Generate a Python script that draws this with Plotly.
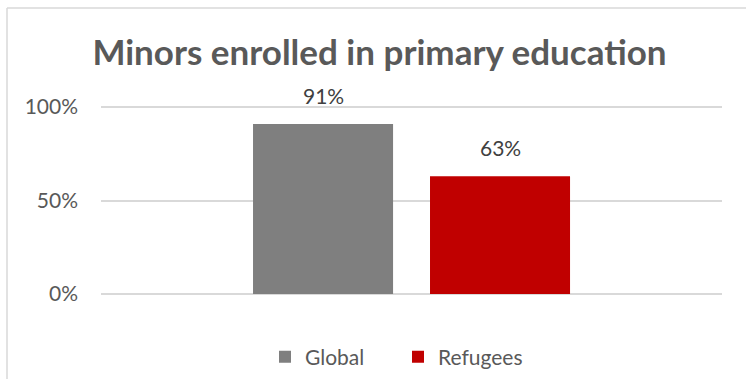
import plotly.graph_objects as go

# Enrollment share of minors in primary education
category = [""]
series_names = ["Global", "Refugees"]
series_values = [[0.91], [0.63]]
series_colors = ["#7f7f7f", "#c00000"]
y_ticks = [0, 0.5, 1.0]
y_tick_labels = ["0%", "50%", "100%"]

FONT = "Lato, 'Open Sans', sans-serif"
W, H = 746, 379
L, R, T, B = 101, 24, 105, 83
Y_PAD = 0.011  # keeps the 0% and 100% grid lines inside the plot area

# bar slot geometry within the single category (axis units, range [-0.5, 0.5])
bar_width = 0.2255
bar_offsets = [-0.2552, 0.0298]

fig = go.Figure()
for name, vals, color, off in zip(series_names, series_values, series_colors, bar_offsets):
    fig.add_trace(go.Bar(
        x=category, y=vals, name=name,
        marker=dict(color=color, line=dict(width=0)),
        width=bar_width, offset=off,
        hoverinfo="skip",
    ))
    # value label above each bar
    for v in vals:
        fig.add_annotation(
            x=off + bar_width / 2, y=v, xref="x", yref="y",
            text=f"{round(v * 100)}%", showarrow=False,
            yanchor="bottom", yshift=14,
            font=dict(family=FONT, size=21, color="#404040"),
        )

# light frame along the top and left edges (container pixels -> paper units)
frame_color = "#d9d9d9"
plot_w, plot_h = W - L - R, H - T - B
x_left = (7 - L) / plot_w
y_top = (H - B - 8) / plot_h
fig.add_shape(type="line", xref="paper", yref="paper",
              x0=x_left, x1=2, y0=y_top, y1=y_top,
              line=dict(color=frame_color, width=1.5))
fig.add_shape(type="line", xref="paper", yref="paper",
              x0=x_left, x1=x_left, y0=y_top, y1=-2,
              line=dict(color=frame_color, width=1.5))

fig.update_layout(
    width=W, height=H,
    margin=dict(l=L, r=R, t=T, b=B, pad=0, autoexpand=False),
    paper_bgcolor="white", plot_bgcolor="white",
    barmode="group",
    showlegend=True,
    title=dict(
        text="<b>Minors enrolled in primary education</b>",
        x=379.5 / W, xref="container", xanchor="center",
        y=1 - 53 / H, yref="container", yanchor="middle",
        font=dict(family=FONT, size=35, color="#595959"),
    ),
    legend=dict(
        orientation="h",
        xref="container", x=265 / W, xanchor="left",
        yref="container", y=1 - 357 / H, yanchor="middle",
        entrywidthmode="pixels", entrywidth=88,
        font=dict(family=FONT, size=21, color="#595959"),
        itemclick=False, itemdoubleclick=False,
    ),
    xaxis=dict(
        range=[-0.5, 0.5], showticklabels=False, showgrid=False,
        zeroline=False, showline=False, ticks="", fixedrange=True,
    ),
    yaxis=dict(
        range=[-Y_PAD, 1 + Y_PAD], tickvals=y_ticks, ticktext=y_tick_labels,
        showgrid=True, gridcolor="#d9d9d9", gridwidth=1.5,
        zeroline=False, showline=False, ticks="",
        ticklabelstandoff=22,
        tickfont=dict(family=FONT, size=21, color="#595959"),
        fixedrange=True,
    ),
)

fig.write_html("out.html", config={"displayModeBar": False})
